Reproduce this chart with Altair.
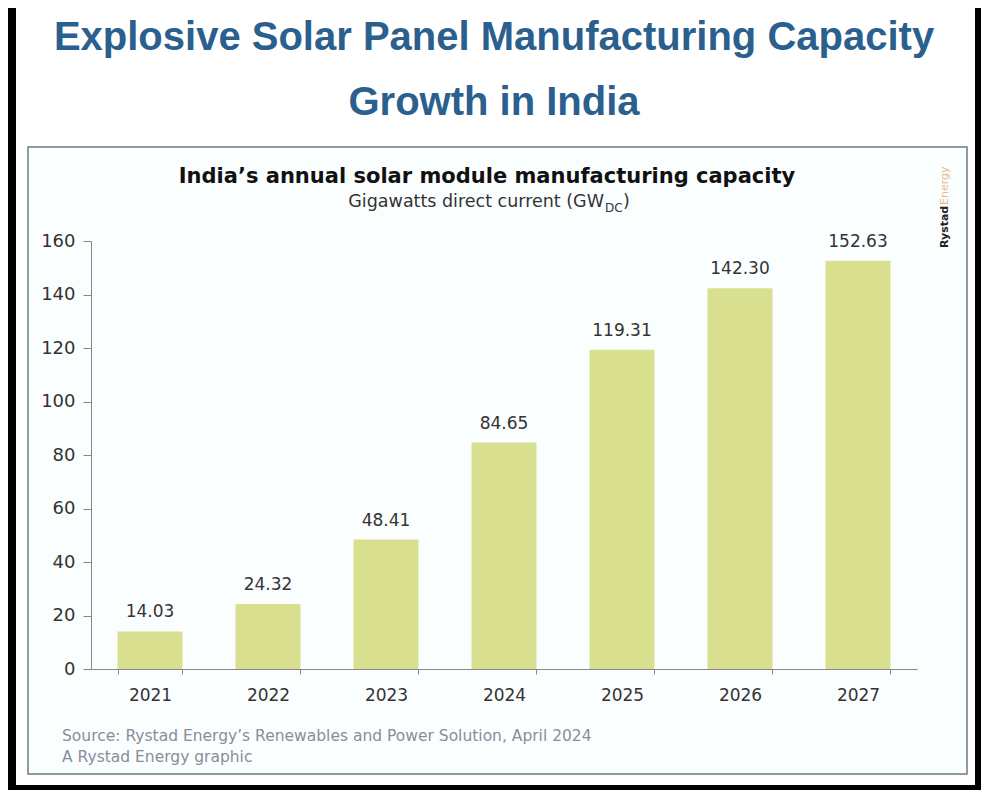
import altair as alt
import pandas as pd

years = ["2021", "2022", "2023", "2024", "2025", "2026", "2027"]
capacity = [14.03, 24.32, 48.41, 84.65, 119.31, 142.30, 152.63]
y_ticks = [0, 20, 40, 60, 80, 100, 120, 140, 160]

main_title_1 = "Explosive Solar Panel Manufacturing Capacity"
main_title_2 = "Growth in India"
chart_title = "India\u2019s annual solar module manufacturing capacity"
subtitle_main = "Gigawatts direct current (GW"
subtitle_sub = "DC"
subtitle_end = ")"
source_1 = "Source: Rystad Energy\u2019s Renewables and Power Solution, April 2024"
source_2 = "A Rystad Energy graphic"
brand_1 = "Rystad"
brand_2 = "Energy"

df = pd.DataFrame({"year": years, "cap": capacity})
df["label"] = [f"{v:.2f}" for v in capacity]
one = pd.DataFrame({"k": [0]})

FONT = "DejaVu Sans, sans-serif"
TITLE_FONT = "Liberation Sans, Arial, sans-serif"

W, H = 826, 428

white = alt.Chart(one).mark_rect(color="white").encode(
    x=alt.value(-75), x2=alt.value(884), y=alt.value(-233), y2=alt.value(544)
)
box = alt.Chart(one).mark_rect(fill="#fbfefe", stroke="#6b7c82", strokeWidth=1.5).encode(
    x=alt.value(-63), x2=alt.value(876), y=alt.value(-94), y2=alt.value(533)
)

def txt(text, x, y, size, color, weight="normal", align="center", font=FONT, angle=0, baseline="alphabetic"):
    return alt.Chart(one).mark_text(
        text=text, fontSize=size, color=color, fontWeight=weight, align=align,
        font=font, angle=angle, baseline=baseline
    ).encode(x=alt.value(x), y=alt.value(y))

t1 = txt(main_title_1, 403, -191, 40, "#2b5f8e", "bold", font=TITLE_FONT)
t2 = txt(main_title_2, 403, -126, 40, "#2b5f8e", "bold", font=TITLE_FONT)
ct = txt(chart_title, 396, -58, 21, "#111111", "bold")
st1 = txt(subtitle_main, 513, -34, 17.5, "#333333", align="right")
st2 = txt(subtitle_sub, 514, -29, 12, "#333333", align="left")
st3 = txt(subtitle_end, 532, -34, 17.5, "#333333", align="left")
s1 = txt(source_1, -29, 500, 15.5, "#8a8d99", align="left")
s2 = txt(source_2, -29, 521, 15.5, "#8a8d99", align="left")
b1 = txt(brand_1, 854, 7, 11, "#222222", "bold", align="left", angle=270, baseline="middle")
b2 = txt(brand_2, 854, -36, 11, "#e9b98c", align="left", angle=270, baseline="middle")

base = alt.Chart(df).encode(
    x=alt.X("year:N", sort=years,
            scale=alt.Scale(paddingInner=0.45, paddingOuter=0.225),
            axis=alt.Axis(title=None, labelAngle=0, labelFontSize=17, labelColor="#333333",
                          labelPadding=13, tickSize=5, tickBand="extent", tickColor="#888888",
                          domainColor="#888888", labelFont=FONT, zindex=1)),
    y=alt.Y("cap:Q", scale=alt.Scale(domain=[0, 160], nice=False),
            axis=alt.Axis(title=None, values=y_ticks, labelFontSize=18, labelColor="#333333",
                          labelPadding=8, tickSize=8, tickColor="#888888", domainColor="#888888",
                          grid=False, labelFont=FONT, zindex=1)),
)
bars = base.mark_bar(color="#d8e090")
vals = base.mark_text(dy=-10, baseline="bottom", fontSize=17, color="#333333", font=FONT).encode(
    text="label:N")

chart = alt.layer(white, box, bars, vals, t1, t2, ct, st1, st2, st3, s1, s2, b1, b2).properties(
    width=W, height=H,
    padding={"left": 83, "top": 233, "right": 64, "bottom": 121},
    autosize=alt.AutoSizeParams(type="none"),
    background="black",
).configure_view(stroke=None)

chart.save("out.html", embed_options={"renderer": "svg", "actions": False})
